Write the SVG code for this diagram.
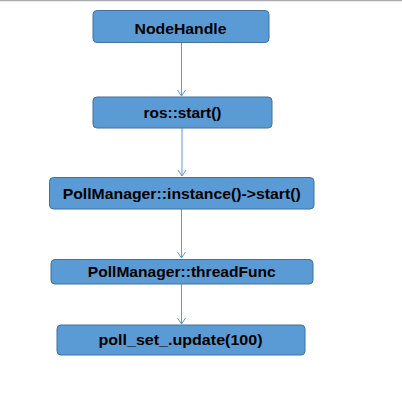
<svg xmlns="http://www.w3.org/2000/svg" width="402" height="408" viewBox="0 0 402 408">
<style>
.box{fill:#5b9bd5;stroke:#41719c;stroke-width:1}
.lbl{font-family:"Liberation Sans",Arial,sans-serif;font-weight:bold;font-size:15.5px;fill:#000;text-anchor:middle}
.edge{stroke:#5b9bd5;stroke-width:1;fill:none}
</style>
<defs>
<marker id="arr" markerWidth="10" markerHeight="10" refX="8" refY="5" orient="auto" markerUnits="userSpaceOnUse">
<path d="M2,1 L8,5 L2,9" fill="none" stroke="#5b9bd5" stroke-width="1"/>
</marker>
</defs>
<rect x="0" y="0" width="402" height="408" fill="#ffffff"/>
<line x1="0" y1="0.5" x2="402" y2="0.5" stroke="#a9aab3" stroke-width="1.5"/>
<g id="connectors">
<line class="edge" x1="181.5" y1="43" x2="181.5" y2="96" marker-end="url(#arr)"/>
<line class="edge" x1="182" y1="128" x2="182" y2="176" marker-end="url(#arr)"/>
<line class="edge" x1="181.5" y1="209" x2="181.5" y2="258" marker-end="url(#arr)"/>
<line class="edge" x1="181.5" y1="284" x2="181.5" y2="324" marker-end="url(#arr)"/>
</g>
<g id="n1"><rect class="box" x="93" y="10.5" width="176" height="32" rx="4"/><text class="lbl" x="180.5" y="33.5" textLength="92" lengthAdjust="spacingAndGlyphs">NodeHandle</text></g>
<g id="n2"><rect class="box" x="93" y="97" width="179" height="31" rx="4"/><text class="lbl" x="182.5" y="118" textLength="78" lengthAdjust="spacingAndGlyphs">ros::start()</text></g>
<g id="n3"><rect class="box" x="49.5" y="177.5" width="264.5" height="31.5" rx="4"/><text class="lbl" x="181.7" y="199" textLength="238" lengthAdjust="spacingAndGlyphs">PollManager::instance()-&gt;start()</text></g>
<g id="n4"><rect class="box" x="51" y="259.5" width="262" height="24.5" rx="4"/><text class="lbl" x="181.8" y="277" textLength="188" lengthAdjust="spacingAndGlyphs">PollManager::threadFunc</text></g>
<g id="n5"><rect class="box" x="57" y="325" width="248" height="30" rx="4"/><text class="lbl" x="180.5" y="345" textLength="164" lengthAdjust="spacingAndGlyphs">poll_set_.update(100)</text></g>
</svg>
